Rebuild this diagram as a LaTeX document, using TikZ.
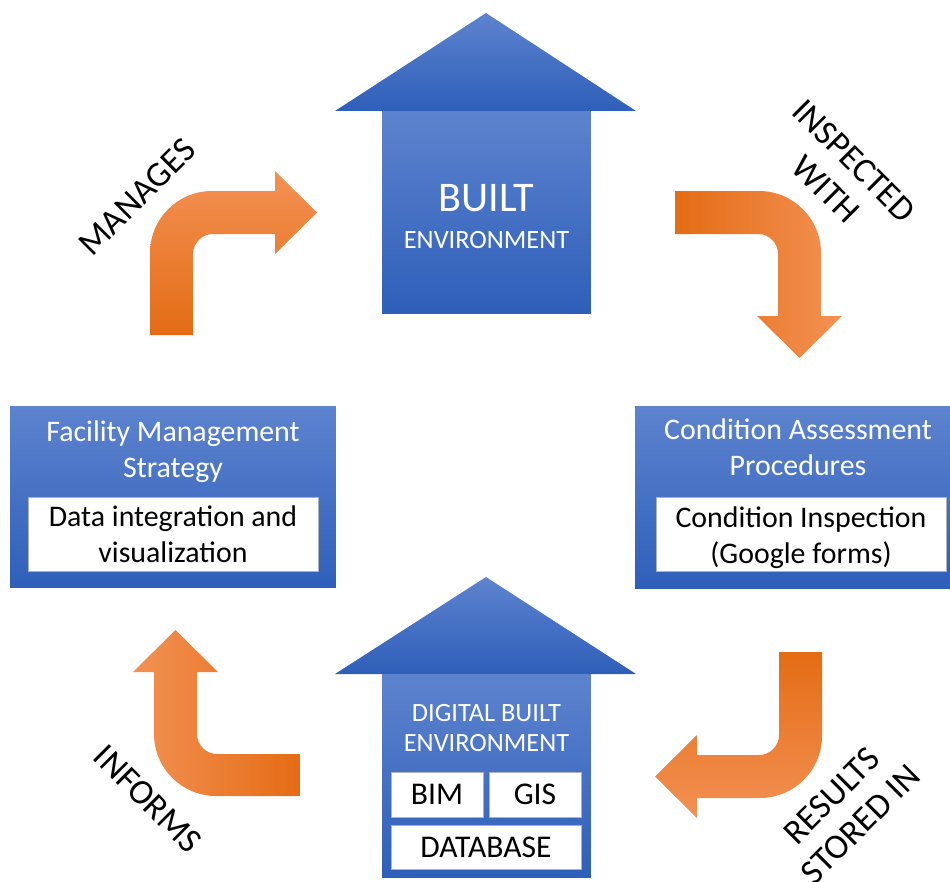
\documentclass[tikz,border=0pt]{standalone}
\usepackage{fontspec}
\setmainfont{Carlito}
\usetikzlibrary{positioning}
\definecolor{bluelight}{RGB}{93,131,206}
\definecolor{bluedark}{RGB}{46,95,185}
\definecolor{orangelight}{RGB}{243,145,84}
\definecolor{orangedark}{RGB}{228,108,20}
\def\fsize#1#2{\fontsize{#1}{#2}\selectfont}

\begin{document}
\begin{tikzpicture}[x=0.02cm,y=-0.02cm,font=\fsize{17}{20.5},
	blueshade/.style={top color=bluelight,bottom color=bluedark},
	housebody/.style={blueshade,minimum width=4.18cm,outer sep=0pt,inner sep=0pt},
	bluebox/.style={blueshade,minimum width=6.52cm,minimum height=3.64cm,outer sep=0pt},
	whitebox/.style={fill=white,draw=black!30,line width=0.4pt,outer sep=0pt,align=center},
	title/.style={text=white,align=center},
	verb/.style={align=center,font=\fsize{20}{23}}]
	\useasboundingbox (0,0) rectangle (950,882);
	\clip (0,0) rectangle (950,882);
	% built environment
	\path [blueshade] (335,111) -- (486,13) -- (636,111) -- cycle;
	\node [housebody,minimum height=4.06cm] at (486.5,212.5) (built) {};
	\node [title,font=\fsize{15}{21}] at (486.5,217) (builttitle) {{\fsize{24}{24}BUILT}\\ENVIRONMENT};
	% digital built environment
	\path [blueshade] (335,674) -- (486,577) -- (636,674) -- cycle;
	\node [housebody,minimum height=4.08cm] at (486.5,776) (dbe) {};
	\node [title,font=\fsize{15}{17}] at (486.5,728) (dbetitle) {DIGITAL BUILT\\ENVIRONMENT};
	\node [whitebox,minimum width=1.84cm,minimum height=0.9cm,font=\fsize{18}{20}] at (437,794.5) (bim) {BIM};
	\node [whitebox,minimum width=1.84cm,minimum height=0.9cm,font=\fsize{18}{20},right=0.12cm of bim] (gis) {GIS};
	\node [whitebox,minimum width=3.8cm,minimum height=0.88cm,font=\fsize{18}{20},below right=0.16cm and 0cm of bim.south west] (database) {DATABASE};
	% facility management
	\node [bluebox] at (173,497) (fms) {};
	\node [title] at (173,452) (fmstitle) {Facility Management\\Strategy};
	\node [whitebox,minimum width=5.8cm,minimum height=1.48cm] at (173,534) (fmsdata) {Data integration and\\visualization};
	% condition assessment
	\node [bluebox] at (798,497.5) (cap) {};
	\node [title] at (798,447.5) (captitle) {Condition Assessment\\Procedures};
	\node [whitebox,minimum width=5.8cm,minimum height=1.48cm,text depth=0pt] at (801,534) (capinsp) {};
	\node [align=center] at (801,537.5) (capinsptext) {Condition Inspection\\(Google forms)};
	% manages
	\path [top color=orangelight,bottom color=orangedark] (150,335) -- (150,253) .. controls (150,218.8) and (177.8,191) .. (212,191) -- (275,191) -- (275,171) -- (317,212.5) -- (275,254) -- (275,234) -- (213,234) .. controls (202,234) and (193,243) .. (193,254) -- (193,335) -- cycle;
	\node [verb,rotate=45] at (137,197) (manages) {MANAGES};
	% inspected with
	\path [left color=orangedark,right color=orangelight] (675,191) -- (759,191) .. controls (793.2,191) and (821,218.8) .. (821,253) -- (821,316) -- (842,316) -- (799.5,358) -- (757,316) -- (778,316) -- (778,254) .. controls (778,243) and (769,234) .. (758,234) -- (675,234) -- cycle;
	\node [verb,rotate=-45] at (840,175) (inspected) {INSPECTED\\WITH};
	% results stored in
	\path [top color=orangedark,bottom color=orangelight] (779,652) -- (822,652) -- (822,736) .. controls (822,770.2) and (794.2,798) .. (760,798) -- (697,798) -- (697,818) -- (655,776.5) -- (697,735) -- (697,755) -- (759,755) .. controls (770,755) and (779,746) .. (779,735) -- cycle;
	\node [verb,rotate=45] at (846,810) (results) {RESULTS\\STORED IN};
	% informs
	\path [left color=orangelight,right color=orangedark] (300,754) -- (217,754) .. controls (206,754) and (197,745) .. (197,734) -- (197,672) -- (218,672) -- (175.5,630) -- (133,672) -- (154,672) -- (154,734) .. controls (154,768.2) and (181.8,796) .. (216,796) -- (300,796) -- cycle;
	\node [verb,rotate=-45] at (148,799) (informs) {INFORMS};
\end{tikzpicture}
\end{document}
